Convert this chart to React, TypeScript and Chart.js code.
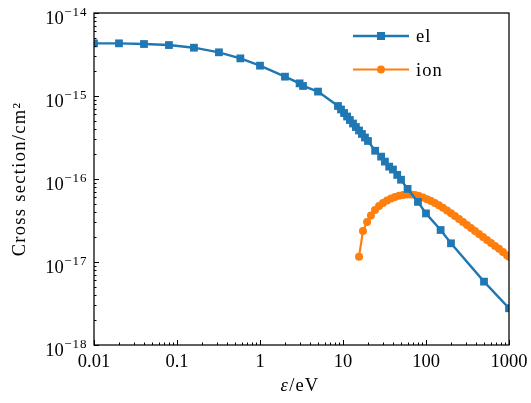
import { useEffect, useRef } from 'react';
import { Chart, registerables } from 'chart.js';

Chart.register(...registerables);

// ---- data ----
const elEnergy = [0.01, 0.02, 0.04, 0.08, 0.16, 0.32, 0.58, 1, 2, 3, 3.3, 5, 8.7, 9.46, 10.3, 11.2, 12.1, 13.2, 14.3, 15.6, 16.9, 18.4, 20, 24.4, 28.8, 32, 36, 40, 45, 50, 60, 80, 100, 150, 200, 500, 1000];
const elCross = [4.31e-15, 4.31e-15, 4.23e-15, 4.11e-15, 3.82e-15, 3.36e-15, 2.84e-15, 2.32e-15, 1.71e-15, 1.42e-15, 1.32e-15, 1.13e-15, 7.58e-16, 6.88e-16, 6.24e-16, 5.66e-16, 5.14e-16, 4.66e-16, 4.23e-16, 3.84e-16, 3.49e-16, 3.16e-16, 2.87e-16, 2.19e-16, 1.86e-16, 1.62e-16, 1.41e-16, 1.3e-16, 1.12e-16, 9.8e-17, 7.6e-17, 5.3e-17, 3.85e-17, 2.43e-17, 1.68e-17, 5.8e-18, 2.77e-18];

const ionEnergy = [15.6, 17.4, 19.5, 21.7, 24.3, 27.2, 30.3, 33.9, 37.9, 42.3, 47.3, 52.8, 59, 65.9, 73.7, 82.3, 92, 103, 115, 128, 143, 160, 179, 200, 223, 250, 279, 312, 348, 389, 435, 486, 543, 607, 678, 758, 847, 946, 1000];
const ionCross = [1.16e-17, 2.36e-17, 3.03e-17, 3.63e-17, 4.24e-17, 4.73e-17, 5.14e-17, 5.51e-17, 5.82e-17, 6.07e-17, 6.29e-17, 6.41e-17, 6.5e-17, 6.5e-17, 6.41e-17, 6.24e-17, 5.98e-17, 5.71e-17, 5.43e-17, 5.14e-17, 4.82e-17, 4.5e-17, 4.17e-17, 3.87e-17, 3.58e-17, 3.3e-17, 3.03e-17, 2.79e-17, 2.57e-17, 2.36e-17, 2.17e-17, 2.0e-17, 1.84e-17, 1.69e-17, 1.56e-17, 1.44e-17, 1.32e-17, 1.21e-17, 1.16e-17];

const xTickValues = [0.01, 0.1, 1, 10, 100, 1000];
const xTickLabels = ['0.01', '0.1', '1', '10', '100', '1000'];
const yTickValues = [1e-18, 1e-17, 1e-16, 1e-15, 1e-14];
const yTickExponents = ['\u221218', '\u221217', '\u221216', '\u221215', '\u221214'];

const seriesLabels = ['el', 'ion'];
const seriesColors = ['#1f77b4', '#ff7f0e'];

const FONT = '"Liberation Serif", "DejaVu Serif", serif';
const FS = 18.5;

function logTicks(min: number, max: number) {
  const out: { value: number }[] = [];
  const e0 = Math.floor(Math.log10(min) + 1e-9);
  const e1 = Math.ceil(Math.log10(max) - 1e-9);
  for (let e = e0; e <= e1; e++) {
    for (let m = 1; m <= 9; m++) {
      const v = m * Math.pow(10, e);
      if (v >= min * (1 - 1e-9) && v <= max * (1 + 1e-9)) out.push({ value: v });
    }
  }
  return out;
}

function isPow10(v: number) {
  const l = Math.log10(v);
  return Math.abs(l - Math.round(l)) < 1e-6;
}

const decorPlugin = {
  id: 'decor',
  afterDraw(chart: any) {
    const { ctx, chartArea } = chart;
    const { left, right, top, bottom } = chartArea;
    const xs = chart.scales.x;
    const ys = chart.scales.y;
    ctx.save();
    ctx.strokeStyle = '#000';
    ctx.fillStyle = '#000';
    ctx.lineWidth = 1;
    // x ticks
    xs.ticks.forEach((t: any) => {
      const px = Math.round(xs.getPixelForValue(t.value)) + 0.5;
      const len = isPow10(t.value) ? 5 : 2.5;
      ctx.beginPath();
      ctx.moveTo(px, bottom);
      ctx.lineTo(px, bottom - len);
      ctx.stroke();
    });
    // y ticks
    ys.ticks.forEach((t: any) => {
      const py = Math.round(ys.getPixelForValue(t.value)) + 0.5;
      const len = isPow10(t.value) ? 5 : 2.5;
      ctx.beginPath();
      ctx.moveTo(left, py);
      ctx.lineTo(left + len, py);
      ctx.stroke();
    });
    // frame
    ctx.lineWidth = 1.25;
    ctx.strokeRect(left, top, right - left, bottom - top);

    // x tick labels
    ctx.font = `${FS}px ${FONT}`;
    ctx.textAlign = 'center';
    ctx.textBaseline = 'alphabetic';
    xTickValues.forEach((v, i) => {
      const px = xs.getPixelForValue(v);
      ctx.fillText(xTickLabels[i], px, bottom + 22);
    });
    // y tick labels 10^n
    yTickValues.forEach((v, i) => {
      const py = ys.getPixelForValue(v);
      const rx = left - 6.5;
      ctx.font = `13px ${FONT}`;
      ctx.textAlign = 'right';
      (ctx as any).letterSpacing = '1px';
      const supW = ctx.measureText(yTickExponents[i]).width;
      ctx.fillText(yTickExponents[i], rx, py + 2.5);
      (ctx as any).letterSpacing = '0px';
      ctx.font = `${FS}px ${FONT}`;
      ctx.fillText('10', rx - supW - 0.5, py + 10.5);
    });

    // x title
    const cx = (left + right) / 2 - 2;
    ctx.textAlign = 'left';
    (ctx as any).letterSpacing = '1px';
    ctx.font = `italic ${FS}px ${FONT}`;
    const epsW = ctx.measureText('\u03b5').width;
    ctx.font = `${FS}px ${FONT}`;
    const restW = ctx.measureText('/eV').width;
    const startX = cx - (epsW + restW) / 2;
    ctx.font = `italic ${FS}px ${FONT}`;
    ctx.fillText('\u03b5', startX, bottom + 46);
    ctx.font = `${FS}px ${FONT}`;
    ctx.fillText('/eV', startX + epsW + 0.5, bottom + 46);

    // y title
    ctx.save();
    ctx.translate(25, (top + bottom) / 2);
    ctx.rotate(-Math.PI / 2);
    ctx.textAlign = 'center';
    (ctx as any).letterSpacing = '1.3px';
    ctx.font = `${FS}px ${FONT}`;
    ctx.fillText('Cross section/cm\u00b2', 0, 0);
    ctx.restore();

    // legend
    (ctx as any).letterSpacing = '1px';
    chart.data.datasets.forEach((ds: any, i: number) => {
      const yy = top + 23 + i * 33.5;
      const x0 = right - 156;
      const x1 = right - 100;
      ctx.strokeStyle = ds.borderColor;
      ctx.lineWidth = ds.borderWidth;
      ctx.beginPath();
      ctx.moveTo(x0, yy);
      ctx.lineTo(x1, yy);
      ctx.stroke();
      ctx.fillStyle = ds.backgroundColor;
      const mx = (x0 + x1) / 2;
      if (ds.pointStyle === 'rect') {
        ctx.fillRect(mx - 4, yy - 4, 8, 8);
      } else {
        ctx.beginPath();
        ctx.arc(mx, yy, 4, 0, Math.PI * 2);
        ctx.fill();
      }
      ctx.fillStyle = '#000';
      ctx.textAlign = 'left';
      ctx.font = `${FS}px ${FONT}`;
      ctx.fillText(ds.label, right - 93, yy + 6);
    });
    ctx.restore();
  },
};

export default function App() {
  const ref = useRef<HTMLCanvasElement | null>(null);
  useEffect(() => {
    if (!ref.current) return;
    const chart = new Chart(ref.current, {
      type: 'line',
      data: {
        datasets: [
          {
            label: seriesLabels[0],
            data: elEnergy.map((x, i) => ({ x, y: elCross[i] })),
            borderColor: seriesColors[0],
            backgroundColor: seriesColors[0],
            pointStyle: 'rect',
            pointRadius: 5.5,
            pointBorderWidth: 0,
            borderWidth: 2.4,
            tension: 0,
            clip: 0,
          } as any,
          {
            label: seriesLabels[1],
            data: ionEnergy.map((x, i) => ({ x, y: ionCross[i] })),
            borderColor: seriesColors[1],
            backgroundColor: seriesColors[1],
            pointStyle: 'circle',
            pointRadius: 4,
            pointBorderWidth: 0,
            borderWidth: 2.2,
            tension: 0,
            clip: 0,
          } as any,
        ],
      },
      options: {
        responsive: false,
        animation: false,
        devicePixelRatio: 1,
        layout: { padding: { left: 0, right: 22, top: 13, bottom: 0 } },
        plugins: { legend: { display: false }, tooltip: { enabled: false } },
        scales: {
          x: {
            type: 'logarithmic',
            min: 0.01,
            max: 1000,
            ticks: { display: false },
            grid: { display: false },
            border: { display: false },
            afterBuildTicks: (s: any) => { s.ticks = logTicks(s.min, s.max); },
            afterFit: (s: any) => { s.height = 58; },
          },
          y: {
            type: 'logarithmic',
            min: 1e-18,
            max: 1e-14,
            ticks: { display: false },
            grid: { display: false },
            border: { display: false },
            afterBuildTicks: (s: any) => { s.ticks = logTicks(s.min, s.max); },
            afterFit: (s: any) => { s.width = 94; },
          },
        },
      } as any,
      plugins: [decorPlugin],
    });
    return () => chart.destroy();
  }, []);
  return (
    <div style={{ position: 'absolute', left: 0, top: 0, width: 531, height: 403, background: '#fff' }}>
      <canvas ref={ref} width={531} height={403} style={{ display: 'block' }} />
    </div>
  );
}
